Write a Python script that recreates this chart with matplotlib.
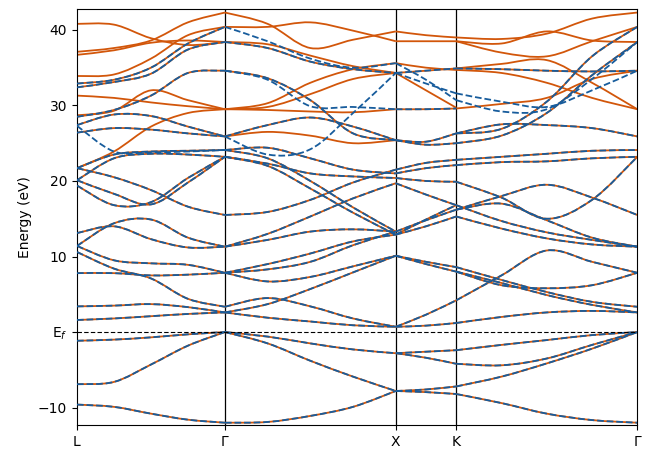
import numpy as np
import matplotlib
matplotlib.use("Agg")
import matplotlib.pyplot as plt
from matplotlib.path import Path
from matplotlib.patches import PathPatch

# ---- k-path ----
kpath_labels = ["L", "Γ", "X", "K", "Γ"]
kpath_pos = [0.0, 0.866, 1.866, 2.220, 3.280]

# ---- band energies (eV) read at evenly spaced nodes of each path segment ----
# L -> Γ (5 nodes)
lg_both = [
    [-9.6, -9.9, -10.8, -11.6, -12.0],
    [-6.9, -6.6, -4.3, -1.8, 0.0],
    [-1.15, -1.0, -0.7, -0.3, 0.0],
    [1.6, 1.8, 2.1, 2.4, 2.6],
    [3.4, 3.5, 3.7, 3.3, 2.6],
    [10.6, 8.4, 7.1, 4.4, 3.35],
    [7.8, 7.8, 7.5, 7.6, 7.85],
    [11.4, 9.5, 9.1, 8.9, 7.85],
    [13.1, 14.0, 12.3, 11.2, 11.3],
    [11.4, 14.4, 14.9, 12.5, 11.3],
    [21.7, 20.5, 18.8, 16.6, 15.5],
    [19.4, 16.8, 17.2, 20.4, 23.2],
    [20.1, 18.3, 16.9, 19.8, 23.2],
    [21.7, 23.5, 23.9, 24.0, 24.1],
    [20.1, 23.0, 23.6, 23.5, 23.2],
    [32.4, 33.1, 34.2, 37.4, 38.4],
    [32.9, 33.4, 35.0, 38.2, 40.4],
    [28.5, 29.4, 31.3, 34.3, 34.6],
    [27.4, 28.8, 28.6, 27.2, 25.9],
    [26.4, 27.0, 26.8, 26.3, 25.9],
]
lg_ref = [
    [40.8, 40.7, 38.9, 38.0, 38.4],
    [37.1, 37.6, 38.6, 41.0, 42.3],
    [36.7, 37.3, 38.3, 38.6, 38.4],
    [33.9, 34.1, 36.2, 39.3, 40.4],
    [31.3, 31.0, 30.4, 29.9, 29.5],
    [28.7, 29.3, 32.0, 30.7, 29.5],
    [21.7, 23.9, 27.2, 29.0, 29.5],
]
lg_wan = [
    [27.3, 23.9, 23.8, 23.9, 24.1],
]

# Γ -> X (5 nodes)
gx_both = [
    [-12.0, -11.9, -11.1, -9.9, -7.8],
    [0.0, -1.5, -3.8, -5.9, -7.8],
    [0.0, -0.6, -1.5, -2.3, -2.8],
    [2.6, 1.9, 1.4, 0.9, 0.7],
    [3.35, 4.5, 3.4, 1.8, 0.7],
    [2.6, 3.7, 5.7, 7.9, 10.1],
    [7.85, 6.7, 7.3, 8.7, 10.1],
    [7.85, 9.0, 10.4, 12.0, 12.9],
    [7.85, 8.3, 9.3, 11.5, 13.3],
    [11.3, 12.2, 13.3, 13.6, 13.3],
    [11.3, 13.0, 15.3, 17.7, 19.7],
    [15.5, 15.9, 17.5, 19.8, 21.5],
    [23.2, 22.0, 19.0, 15.8, 12.9],
    [24.1, 23.0, 20.0, 16.5, 13.3],
    [23.2, 22.3, 21.0, 20.6, 20.4],
    [24.1, 24.4, 23.0, 21.5, 21.0],
    [25.9, 27.4, 28.4, 27.2, 25.4],
    [34.6, 33.6, 30.7, 26.3, 25.4],
    [38.4, 37.6, 35.8, 34.8, 34.3],
]
gx_ref = [
    [42.3, 40.8, 37.6, 38.7, 39.8],
    [40.4, 40.4, 41.0, 39.9, 38.5],
    [38.4, 38.1, 36.6, 35.2, 34.3],
    [29.5, 30.3, 33.0, 34.8, 35.6],
    [29.5, 29.8, 31.5, 33.5, 34.3],
    [29.5, 29.4, 29.2, 29.1, 29.5],
    [25.9, 26.5, 26.0, 25.0, 25.4],
]
gx_wan = [
    [40.4, 38.5, 36.2, 35.0, 35.6],
    [34.6, 33.4, 29.9, 29.8, 29.5],
    [25.9, 23.5, 24.2, 29.0, 34.3],
]

# X -> K (3 nodes)
xk_both = [
    [-7.8, -7.95, -8.2],
    [-7.8, -7.6, -7.2],
    [-2.8, -3.4, -4.2],
    [-2.8, -2.6, -2.4],
    [0.7, 0.85, 1.2],
    [0.7, 2.3, 4.2],
    [10.1, 9.3, 8.6],
    [10.1, 9.0, 8.0],
    [12.9, 14.0, 15.3],
    [13.3, 14.8, 16.2],
    [12.9, 14.9, 16.8],
    [21.5, 22.4, 22.8],
    [21.0, 21.7, 22.1],
    [20.4, 20.0, 19.9],
    [19.7, 18.2, 16.8],
    [25.4, 25.2, 26.3],
    [25.4, 24.8, 25.0],
    [29.5, 29.5, 29.6],
    [34.3, 34.6, 34.9],
]
xk_ref = [
    [35.6, 35.0, 34.7],
    [34.3, 32.0, 29.7],
    [39.8, 39.3, 39.0],
    [38.5, 38.5, 38.5],
]
xk_wan = [
    [35.6, 33.4, 30.7],
    [34.3, 32.9, 31.6],
]

# K -> Γ (5 nodes)
kg_both = [
    [-8.2, -9.4, -10.8, -11.65, -12.0],
    [-7.2, -5.9, -4.15, -2.2, 0.0],
    [-4.2, -4.4, -3.5, -1.7, 0.0],
    [-2.4, -1.7, -1.06, -0.4, 0.0],
    [1.2, 2.0, 2.6, 2.8, 2.6],
    [4.2, 7.5, 10.8, 9.3, 7.85],
    [8.6, 6.9, 5.3, 4.0, 3.35],
    [8.0, 6.5, 4.9, 3.6, 2.6],
    [8.0, 6.2, 5.8, 6.2, 7.85],
    [16.8, 14.7, 13.2, 12.2, 11.3],
    [15.3, 13.7, 12.4, 11.6, 11.3],
    [16.2, 17.0, 14.8, 12.5, 11.3],
    [19.9, 17.8, 15.0, 17.5, 23.2],
    [16.2, 18.0, 19.5, 17.8, 15.5],
    [22.1, 22.5, 22.6, 23.0, 23.2],
    [22.8, 23.2, 23.6, 24.0, 24.1],
    [26.3, 27.5, 27.4, 27.0, 25.9],
    [25.0, 26.0, 29.0, 34.0, 38.4],
    [26.3, 26.9, 30.5, 36.5, 40.4],
    [34.9, 34.8, 34.6, 34.5, 34.6],
]
kg_ref = [
    [29.6, 30.2, 31.0, 33.5, 34.6],
    [34.7, 34.3, 33.0, 31.0, 29.5],
    [34.9, 35.5, 36.0, 33.0, 29.5],
    [38.5, 37.0, 36.5, 38.5, 40.4],
    [39.0, 38.8, 39.5, 41.5, 42.3],
    [38.5, 38.2, 39.8, 38.6, 38.4],
]
kg_wan = [
    [31.6, 30.5, 29.8, 32.0, 34.6],
    [30.7, 29.2, 29.5, 33.5, 38.4],
]

segments = [
    (0, 1, lg_both, lg_ref, lg_wan),
    (1, 2, gx_both, gx_ref, gx_wan),
    (2, 3, xk_both, xk_ref, xk_wan),
    (3, 4, kg_both, kg_ref, kg_wan),
]

ORANGE = "#D2560A"
BLUE = "#175C9C"


def smooth_path(xs, ys):
    """Catmull-Rom curve through the nodes, drawn as cubic Bezier pieces."""
    pts = np.column_stack([xs, ys]).astype(float)
    n = len(pts)
    ext = np.vstack([pts[0], pts, pts[-1]])
    verts = [pts[0]]
    codes = [Path.MOVETO]
    for i in range(n - 1):
        p0, p1, p2, p3 = ext[i], ext[i + 1], ext[i + 2], ext[i + 3]
        c1 = p1 + (p2 - p0) / 6.0
        c2 = p2 - (p3 - p1) / 6.0
        verts += [c1, c2, p2]
        codes += [Path.CURVE4] * 3
    return Path(verts, codes)


fig = plt.figure(figsize=(6.47, 4.49), dpi=100)
ax = fig.add_axes([0.119, 0.0535, 0.866, 0.927])

for (a, b, both, ref, wan) in segments:
    for band in both + ref:
        xs = np.linspace(kpath_pos[a], kpath_pos[b], len(band))
        ax.add_patch(PathPatch(smooth_path(xs, band), fill=False,
                               edgecolor=ORANGE, lw=1.3, zorder=2))
    for j, band in enumerate(both + wan):
        xs = np.linspace(kpath_pos[a], kpath_pos[b], len(band))
        ax.add_patch(PathPatch(smooth_path(xs, band), fill=False,
                               edgecolor=BLUE, lw=1.3, zorder=3,
                               linestyle=(0, (3.7, 1.6))))

for p in kpath_pos[1:-1]:
    ax.axvline(p, color="black", lw=0.9, zorder=1)
ax.axhline(0.0, color="black", lw=0.8, ls=(0, (4, 2)), zorder=4)

ax.set_xlim(kpath_pos[0], kpath_pos[-1])
ax.set_ylim(-12.3, 42.8)
ax.set_xticks(kpath_pos)
ax.set_xticklabels(kpath_labels)
ax.set_yticks([-10, 0, 10, 20, 30, 40])
ax.set_yticklabels(["\u221210", "E$_f$", "10", "20", "30", "40"])
ax.set_ylabel("Energy (eV)")

fig.savefig("out.png", dpi=100)
